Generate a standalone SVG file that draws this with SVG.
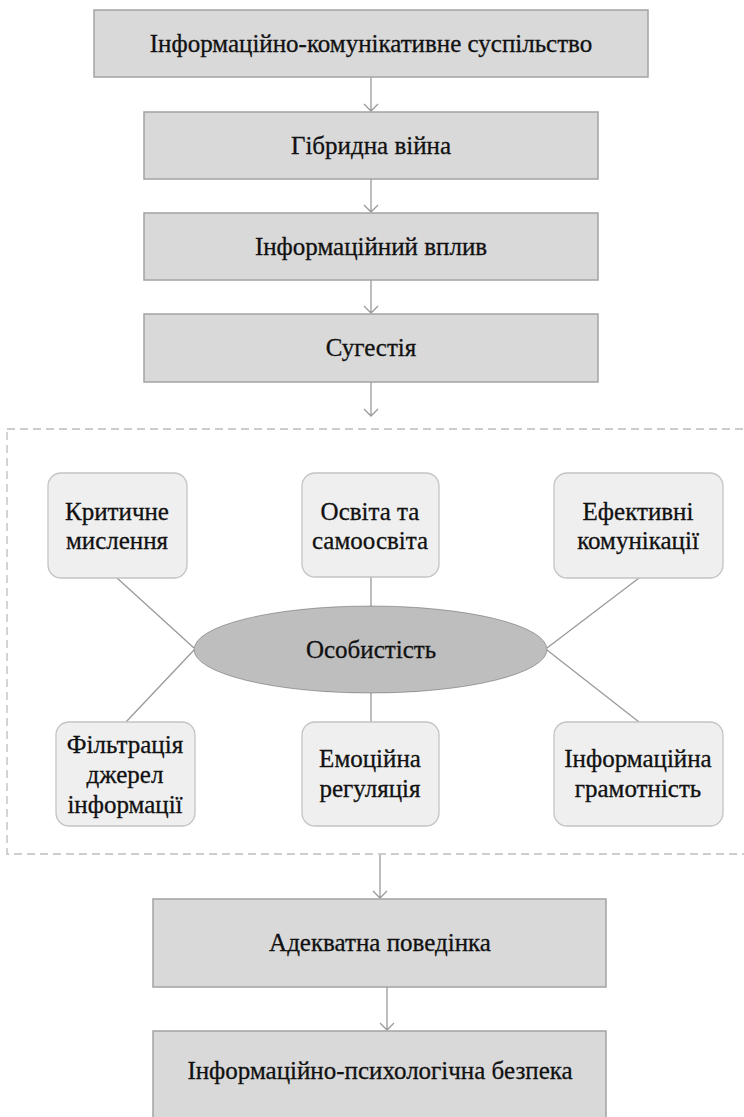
<svg xmlns="http://www.w3.org/2000/svg" width="744" height="1117" viewBox="0 0 744 1117">
<style>
.box{fill:#d9d9d9;stroke:#a3a3a3;stroke-width:1.5}
.rbox{fill:#efefef;stroke:#c4c4c4;stroke-width:1.3}
.ell{fill:#bebebe}
.frame{fill:none;stroke:#bdbdbd;stroke-width:1.3;stroke-dasharray:8 5}
</style>
<rect width="744" height="1117" fill="#ffffff"/>
<rect id="frame" class="frame" x="7" y="429" width="770" height="425"/>
<g id="connectors" stroke="#9a9a9a" stroke-width="1.3" fill="none">
<path d="M371,77 V111 M364,104 L371,111 L378,104"/>
<path d="M371,179 V212 M364,205 L371,212 L378,205"/>
<path d="M371,280 V313 M364,306 L371,313 L378,306"/>
<path d="M371,382 V416 M364,409 L371,416 L378,409"/>
<path d="M380,855 V898 M373,891 L380,898 L387,891"/>
<path d="M387,987 V1030 M380,1023 L387,1030 L394,1023"/>
<line x1="117" y1="578" x2="194" y2="648"/>
<line x1="194" y1="650" x2="126" y2="722"/>
<line x1="639" y1="578" x2="547" y2="648"/>
<line x1="547" y1="650" x2="639" y2="722"/>
<line x1="371" y1="577" x2="371" y2="607"/>
<line x1="371" y1="693" x2="371" y2="722"/>
</g>
<g font-family="'Liberation Serif', 'DejaVu Serif', 'Times New Roman', serif" font-size="25" fill="#111" stroke="#111" stroke-width="0.3" text-anchor="middle">
<g id="n1"><rect class="box" x="94" y="10" width="554" height="67"/><text x="371" y="52">Інформаційно-комунікативне суспільство</text></g>
<g id="n2"><rect class="box" x="144" y="112" width="454" height="67"/><text x="371" y="154">Гібридна війна</text></g>
<g id="n3"><rect class="box" x="144" y="213" width="454" height="67"/><text x="371" y="255">Інформаційний вплив</text></g>
<g id="n4"><rect class="box" x="144" y="314" width="454" height="68"/><text x="371" y="356">Сугестія</text></g>
<g id="n5"><rect class="rbox" x="48" y="473" width="139" height="105" rx="13"/><text x="117" y="520">Критичне</text><text x="117" y="549">мислення</text></g>
<g id="n6"><rect class="rbox" x="302" y="473" width="137" height="104" rx="13"/><text x="370" y="520">Освіта та</text><text x="370" y="549">самоосвіта</text></g>
<g id="n7"><rect class="rbox" x="554" y="473" width="169" height="105" rx="13"/><text x="638" y="520">Ефективні</text><text x="638" y="549">комунікації</text></g>
<g id="n8"><ellipse class="ell" cx="370.5" cy="649.5" rx="176.5" ry="43.5"/><text x="371" y="658">Особистість</text></g>
<g id="n9"><rect class="rbox" x="56" y="722" width="139" height="104" rx="13"/><text x="125" y="753">Фільтрація</text><text x="125" y="783">джерел</text><text x="125" y="813">інформації</text></g>
<g id="n10"><rect class="rbox" x="302" y="722" width="137" height="104" rx="13"/><text x="370" y="767">Емоційна</text><text x="370" y="797">регуляція</text></g>
<g id="n11"><rect class="rbox" x="554" y="722" width="169" height="104" rx="13"/><text x="638" y="767">Інформаційна</text><text x="638" y="797">грамотність</text></g>
<g id="n12"><rect class="box" x="153" y="899" width="453" height="88"/><text x="380" y="951">Адекватна поведінка</text></g>
<g id="n13"><rect class="box" x="153" y="1031" width="453" height="92"/><text x="380" y="1079">Інформаційно-психологічна безпека</text></g>
</g>
</svg>
